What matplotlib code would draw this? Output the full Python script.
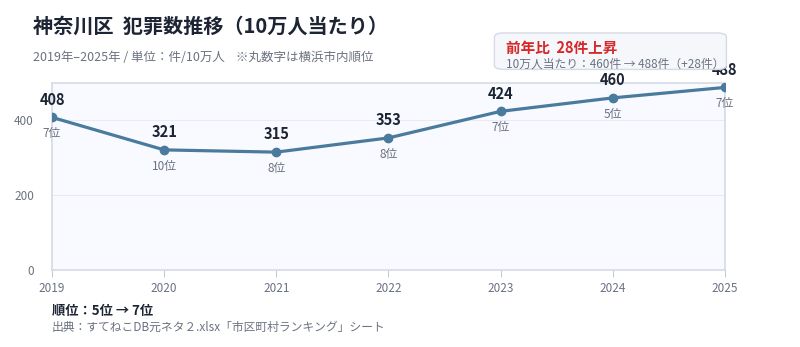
import matplotlib
matplotlib.use("Agg")
from matplotlib import pyplot as plt
from matplotlib.patches import FancyBboxPatch

plt.rcParams['font.family'] = ['Noto Sans CJK JP', 'DejaVu Sans']

years = [2019, 2020, 2021, 2022, 2023, 2024, 2025]
crimes = [408, 321, 315, 353, 424, 460, 488]
ranks = ['7位', '10位', '8位', '8位', '7位', '5位', '7位']
yticks = [0, 200, 400]

line_color = '#4a7b9d'
grid_color = '#e8ebf2'
text_dark = '#1d2433'
text_gray = '#6b7280'

fig = plt.figure(figsize=(8, 3.47), dpi=100)
ax = fig.add_axes([0.065, 0.222, 0.841, 0.539])
ax.set_facecolor('#f8faff')

ax.plot(years, crimes, color=line_color, linewidth=2.3, marker='o', markersize=6, zorder=3)

for x, y, r in zip(years, crimes, ranks):
    ax.annotate(str(y), (x, y), xytext=(0, 7), textcoords='offset points',
                ha='center', va='bottom', fontsize=10.5, fontweight='bold', color=text_dark)
    ax.annotate(r, (x, y), xytext=(0, -7), textcoords='offset points',
                ha='center', va='top', fontsize=8.5, color=text_gray)

ax.set_xlim(2019, 2025)
ax.set_ylim(0, 500)
ax.set_yticks(yticks)
ax.set_xticks(years)
ax.grid(axis='y', color=grid_color, linewidth=0.8)
ax.set_axisbelow(True)
for s in ax.spines.values():
    s.set_color('#d5dae5')
    s.set_linewidth(1.2)
ax.tick_params(axis='x', colors='#c5cad5', labelcolor=text_gray, labelsize=8.5, length=5, pad=4)
ax.tick_params(axis='y', length=0, labelcolor=text_gray, labelsize=8.5, pad=13)

fig.text(0.041, 0.925, '神奈川区  犯罪数推移（10万人当たり）', fontsize=14.5, fontweight='bold',
         color=text_dark, va='center')
fig.text(0.041, 0.835, '2019年–2025年 / 単位：件/10万人    ※丸数字は横浜市内順位', fontsize=9,
         color=text_gray, va='center')

box = FancyBboxPatch((0.618, 0.800), 0.290, 0.105, boxstyle='round,pad=0,rounding_size=0.012',
                     transform=fig.transFigure, facecolor='#f5f7fb', edgecolor='#d5dae5',
                     linewidth=1, zorder=1)
fig.patches.append(box)
fig.text(0.633, 0.862, '前年比  28件上昇', fontsize=10.5, fontweight='bold', color='#d62828', va='center')
fig.text(0.633, 0.815, '10万人当たり：460件 → 488件（+28件）', fontsize=8.5, color=text_gray, va='center')

fig.text(0.065, 0.103, '順位：5位 → 7位', fontsize=9.5, fontweight='bold', color=text_dark, va='center')
fig.text(0.065, 0.057, '出典：すてねこDB元ネタ２.xlsx「市区町村ランキング」シート', fontsize=8.5,
         color=text_gray, va='center')

fig.savefig('out.png', dpi=100)
